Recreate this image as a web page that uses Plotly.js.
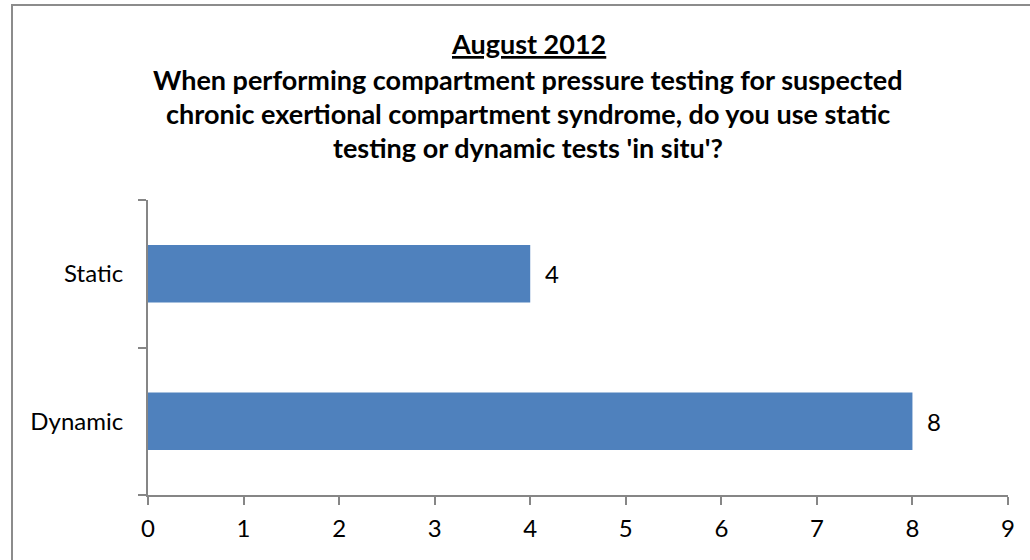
<!DOCTYPE html>
<html>
<head>
<meta charset="utf-8">
<script src="https://cdn.plot.ly/plotly-3.0.1.min.js"></script>
<style>
  html, body { margin: 0; padding: 0; background: #fff; }
  #chart { width: 1030px; height: 560px; }
</style>
</head>
<body>
<div id="chart"></div>
<script>
const categories = ["Dynamic", "Static"];
const counts = [8, 4];
const titleLines = [
  "<u>August 2012</u>",
  "When performing compartment pressure testing for suspected",
  "chronic exertional compartment syndrome, do you use static",
  "testing or dynamic tests 'in situ'?"
];
const xTickValues = [0, 1, 2, 3, 4, 5, 6, 7, 8, 9];

const FONT = "Lato, 'Open Sans', sans-serif";
const AXIS = "#868686";

const marginL = 148, marginR = 22, marginT = 200, marginB = 65;
const W = 1030, H = 560;
const plotH = H - marginT - marginB;
const plotW = W - marginL - marginR;

// title line centres in pixels from top
const titleY = [44, 80, 114, 147];
const titleCenterX = 528;

const annotations = titleLines.map((t, i) => ({
  text: "<b>" + t + "</b>",
  xref: "paper", yref: "paper",
  x: (titleCenterX - marginL) / plotW,
  y: (H - marginB - titleY[i]) / plotH,
  xanchor: "center", yanchor: "middle",
  showarrow: false,
  font: { family: FONT, size: 27, color: "#000" }
}));

categories.forEach((c, i) => {
  annotations.push({
    text: String(counts[i]),
    x: counts[i], y: c,
    xref: "x", yref: "y",
    xanchor: "left", yanchor: "middle",
    xshift: 13,
    showarrow: false,
    font: { family: FONT, size: 24, color: "#000" }
  });
});

const trace = {
  type: "bar",
  orientation: "h",
  y: categories,
  x: counts,
  marker: { color: "#4F81BD", line: { width: 0 } },
  width: 0.39,
  hoverinfo: "x+y"
};

const layout = {
  width: W, height: H,
  margin: { l: marginL, r: marginR, t: marginT, b: marginB, pad: 0 },
  paper_bgcolor: "#fff",
  plot_bgcolor: "#fff",
  showlegend: false,
  font: { family: FONT, size: 24, color: "#000" },
  xaxis: {
    range: [0, 9],
    tickvals: xTickValues,
    ticktext: xTickValues.map(String),
    showgrid: false,
    zeroline: false,
    showline: true,
    linecolor: AXIS,
    linewidth: 2,
    ticks: "outside",
    ticklen: 8,
    tickwidth: 2,
    tickcolor: AXIS,
    ticklabelstandoff: 3,
    tickfont: { family: FONT, size: 24, color: "#000" },
    fixedrange: true
  },
  yaxis: {
    type: "category",
    categoryorder: "array",
    categoryarray: categories,
    range: [-0.5, 1.5],
    showgrid: false,
    zeroline: false,
    showline: true,
    linecolor: AXIS,
    linewidth: 2,
    ticks: "outside",
    tickson: "boundaries",
    ticklen: 8,
    tickwidth: 2,
    tickcolor: AXIS,
    ticklabelstandoff: 18,
    tickfont: { family: FONT, size: 24, color: "#000" },
    fixedrange: true
  },
  annotations: annotations,
  shapes: [{
    type: "rect",
    xref: "paper", yref: "paper",
    x0: (12 - marginL) / plotW,
    x1: (1060 - marginL) / plotW,
    y0: (H - marginB - 600) / plotH,
    y1: (H - marginB - 5) / plotH,
    line: { color: "#8c8c8c", width: 2 },
    fillcolor: "rgba(0,0,0,0)",
    layer: "below"
  }]
};

Plotly.newPlot("chart", [trace], layout, { displayModeBar: false, staticPlot: true });
</script>
</body>
</html>
